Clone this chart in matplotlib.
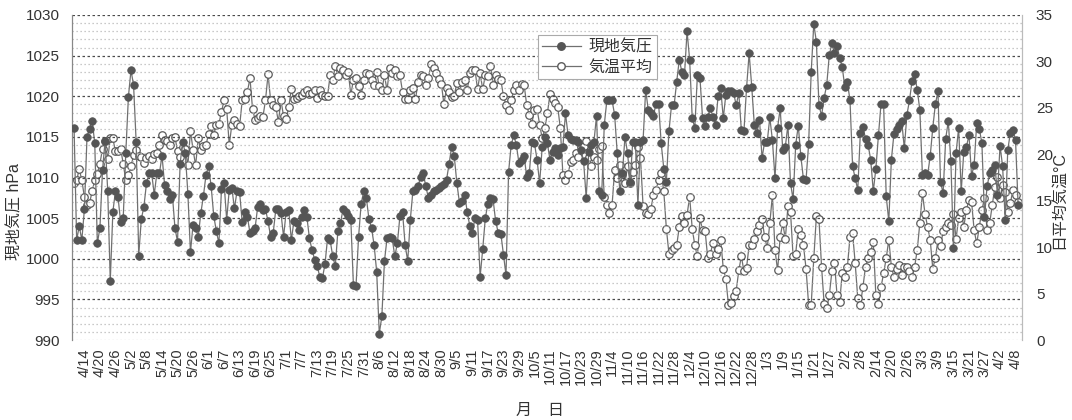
import matplotlib
matplotlib.use("Agg")
import matplotlib.pyplot as plt
import pandas as pd
from matplotlib.ticker import MultipleLocator
from matplotlib.lines import Line2D

plt.rcParams['font.family'] = ['Liberation Sans', 'Noto Sans CJK JP', 'DejaVu Sans']

start_date = "2003-04-10"

# 現地気圧 (hPa), daily values
pressure_apr_jun = [
    1016.1, 1002.3, 1004.0, 1002.3, 1006.1, 1015.0, 1016.0, 1017.0, 1014.2, 1001.9,
    1003.8, 1010.9, 1014.5, 1008.4, 997.3, 1005.8, 1008.3, 1007.6, 1004.5, 1005.0,
    1013.0, 1019.9, 1023.2, 1021.4, 1014.4, 1000.4, 1004.9, 1006.4, 1009.3, 1010.5,
    1010.5, 1007.9, 1010.5, 1010.5, 1012.7, 1009.1, 1008.3, 1007.3, 1007.9, 1003.8,
    1002.1, 1011.7, 1014.4, 1013.0, 1008.0, 1000.8, 1004.2, 1003.8, 1002.7, 1005.6,
    1007.7, 1010.3, 1011.4, 1008.9, 1005.3, 1003.4, 1001.9, 1008.6, 1009.3, 1004.8]
pressure_jun_aug = [
    1008.5, 1008.7, 1006.2, 1008.3, 1008.2, 1004.5, 1005.8, 1005.2, 1003.2, 1003.4,
    1003.8, 1006.4, 1006.8, 1006.0, 1006.1, 1004.6, 1002.7, 1003.2, 1006.1, 1006.1,
    1005.6, 1002.7, 1005.8, 1006.0, 1002.3, 1004.6, 1004.4, 1003.6, 1005.2, 1006.0,
    1005.2, 1002.5, 1001.1, 999.9, 999.1, 997.8, 997.6, 999.3, 1002.5, 1002.3,
    1000.3, 999.1, 1003.4, 1004.4, 1006.1, 1005.8, 1005.3, 1004.8, 996.8, 996.6,
    1002.7, 1006.8, 1008.3, 1007.5, 1004.9, 1003.8, 1001.7, 998.4, 990.8, 992.9,
    999.7]
pressure_aug_oct = [
    1002.5, 1002.7, 1002.5, 1000.3, 1001.9, 1005.3, 1005.7, 1001.7, 999.7, 1004.8,
    1008.3, 1008.5, 1008.9, 1010.1, 1010.5, 1008.9, 1007.5, 1007.9, 1008.3, 1008.5,
    1008.7, 1008.9, 1009.2, 1009.7, 1011.7, 1013.8, 1012.6, 1009.3, 1006.9, 1007.1,
    1007.9, 1005.8, 1004.0, 1003.2, 1005.0, 1004.8, 997.8, 1001.2, 1005.0, 1006.8,
    1007.5, 1007.3, 1004.6, 1003.2, 1003.1, 1000.5, 998.0, 1010.7, 1014.0, 1015.2,
    1014.0, 1011.8, 1012.2, 1012.7, 1010.1, 1010.5, 1014.4, 1014.2, 1012.2, 1009.3,
    1013.8]
pressure_oct_dec = [
    1015.0, 1014.2, 1012.2, 1013.2, 1013.6, 1012.8, 1013.6, 1013.8, 1017.9, 1015.2,
    1014.8, 1014.6, 1014.6, 1014.4, 1013.4, 1012.0, 1007.5, 1013.1, 1014.0, 1014.4,
    1017.6, 1008.3, 1007.9, 1016.5, 1019.5, 1019.5, 1019.5, 1017.7, 1013.0, 1008.3,
    1010.5, 1015.0, 1013.0, 1009.5, 1014.4, 1014.4, 1006.6, 1014.4, 1014.6, 1020.8,
    1018.3, 1018.0, 1017.6, 1019.1, 1019.1, 1014.2, 1011.1, 1009.5, 1015.7, 1018.9,
    1018.9, 1021.8, 1024.5, 1023.0, 1022.6, 1028.0, 1024.5, 1017.3, 1016.1, 1022.6,
    1022.2, 1017.3]
pressure_dec_feb = [
    1016.3, 1017.5, 1018.5, 1017.5, 1016.5, 1020.0, 1021.0, 1017.3, 1020.2, 1020.6,
    1020.6, 1020.4, 1018.9, 1020.4, 1015.8, 1015.7, 1021.0, 1025.3, 1021.2, 1016.5,
    1015.5, 1017.1, 1012.4, 1014.4, 1014.4, 1017.4, 1014.6, 1009.9, 1016.1, 1018.5,
    1013.4, 1013.8, 1016.5, 1009.3, 1007.3, 1014.0, 1016.4, 1012.6, 1009.8, 1009.7,
    1014.1, 1023.0, 1028.9, 1026.7, 1018.9, 1017.6, 1019.8, 1021.4, 1025.1, 1026.5,
    1025.3, 1026.2, 1024.7, 1023.6, 1021.1, 1021.7, 1019.5, 1011.4, 1009.9, 1008.5]
pressure_feb_apr = [
    1015.5, 1016.2, 1014.8, 1014.0, 1012.2, 1008.3, 1011.1, 1015.2, 1019.1, 1019.0,
    1007.7, 1004.6, 1012.2, 1015.4, 1016.0, 1016.5, 1016.9, 1013.6, 1017.7, 1019.5,
    1021.9, 1022.7, 1020.8, 1018.3, 1010.3, 1010.5, 1010.3, 1012.6, 1016.1, 1019.0,
    1020.6, 1009.4, 1008.1, 1014.8, 1016.9, 1012.0, 1001.3, 1013.0, 1016.1, 1008.3,
    1013.2, 1013.8, 1015.2, 1010.2, 1011.6, 1016.7, 1016.0, 1014.2, 1005.2, 1008.9,
    1010.5, 1010.9, 1011.6, 1007.9, 1013.9, 1011.4, 1004.8, 1013.4, 1015.5, 1015.9,
    1014.6, 1006.6]

# 気温平均 (°C), daily values
temp_apr_jun = [
    16.9, 17.2, 18.4, 17.2, 15.4, 14.5, 14.8, 16.0, 17.2, 17.9,
    19.0, 20.6, 21.4, 19.5, 21.7, 21.7, 20.3, 20.3, 20.6, 19.0,
    17.2, 17.8, 18.7, 19.9, 20.5, 19.8, 19.7, 19.1, 19.6, 19.8,
    19.5, 20.0, 20.1, 21.0, 22.1, 21.5, 21.4, 21.0, 21.7, 21.9,
    20.3, 19.7, 20.8, 20.6, 18.8, 22.5, 20.5, 18.8, 21.7, 20.5,
    20.9, 21.0, 22.2, 23.0, 22.1, 23.2, 23.3, 24.6, 25.8, 24.9,
    21.0]
temp_jun_aug = [
    23.2, 23.7, 23.3, 23.0, 25.8, 26.0, 26.7, 28.2, 24.9, 23.7,
    23.9, 24.1, 24.0, 25.8, 28.6, 25.8, 25.3, 25.1, 23.5, 25.8,
    24.1, 23.8, 25.1, 27.0, 25.9, 26.1, 26.3, 26.4, 26.7, 26.9,
    26.5, 26.6, 26.9, 26.1, 26.9, 26.4, 26.3, 26.3, 28.5, 28.0,
    29.5, 28.4, 29.3, 29.1, 28.5, 28.9, 26.4, 28.0, 28.2, 27.3,
    26.4, 28.0, 28.7, 28.6, 28.0, 27.5, 28.9, 27.3, 26.9, 28.5]
temp_aug_oct = [
    26.9, 29.3, 28.7, 29.1, 28.4, 28.5, 26.7, 26.0, 25.9, 26.9,
    27.1, 25.9, 27.8, 28.5, 28.4, 27.5, 28.2, 29.7, 29.3, 28.8,
    28.1, 27.6, 25.4, 27.1, 26.7, 26.2, 26.3, 27.7, 26.7, 27.8,
    28.0, 26.9, 28.7, 29.1, 29.1, 27.0, 28.7, 27.0, 28.5, 28.4,
    29.5, 27.5, 28.5, 28.1, 28.0, 26.3, 25.3, 24.8, 25.8, 26.9,
    27.5, 26.9, 27.6, 27.5, 25.3, 24.2, 23.3, 24.8, 24.9, 23.2,
    21.7]
temp_oct_dec = [
    22.8, 24.4, 26.5, 25.9, 25.5, 25.1, 22.8, 17.8, 17.2, 17.9,
    19.2, 19.4, 20.1, 19.7, 20.8, 20.9, 21.4, 19.7, 18.7, 19.7,
    19.4, 20.6, 20.9, 15.4, 14.5, 13.7, 14.5, 18.3, 17.4, 18.8,
    17.9, 16.9, 18.7, 16.9, 18.1, 18.8, 20.8, 19.6, 14.4, 13.7,
    13.6, 14.1, 15.6, 16.2, 17.2, 18.0, 16.0, 12.0, 9.3, 9.7,
    9.9, 10.2, 12.2, 13.3, 12.6, 13.5, 15.4, 12.0, 10.2, 9.0,
    13.1]
temp_dec_feb = [
    11.8, 11.7, 8.8, 9.3, 10.4, 9.3, 9.8, 10.8, 7.7, 6.6,
    3.8, 4.0, 4.7, 5.3, 7.5, 9.0, 7.4, 7.8, 10.2, 10.2,
    10.9, 11.7, 12.4, 13.0, 11.1, 9.9, 12.6, 15.6, 9.7, 7.5,
    11.1, 12.6, 10.9, 14.4, 13.8, 9.0, 9.3, 12.0, 11.3, 10.2,
    7.7, 3.8, 3.8, 8.8, 13.3, 13.0, 7.9, 3.9, 3.4, 4.8,
    7.4, 8.3, 4.8, 4.1, 7.2, 6.8, 7.9, 11.1, 11.5, 8.3,
    4.5]
temp_feb_apr = [
    3.8, 5.7, 7.9, 8.8, 9.5, 10.6, 4.8, 3.9, 5.7, 7.2,
    8.8, 10.8, 7.9, 6.8, 7.7, 8.1, 7.0, 7.9, 7.9, 7.4,
    6.8, 7.9, 9.7, 12.6, 15.8, 13.6, 12.2, 10.8, 7.7, 8.8,
    10.8, 10.1, 11.7, 12.2, 12.6, 12.4, 13.6, 10.9, 13.1, 13.8,
    12.2, 14.0, 15.1, 14.9, 11.8, 10.4, 12.2, 14.0, 15.3, 11.8,
    12.6, 14.5, 16.5, 17.6, 15.3, 16.7, 15.9, 13.8, 14.7, 16.2,
    15.6, 14.9]

tick_labels = [
    "4/14", "4/20", "4/26", "5/2", "5/8", "5/14", "5/20", "5/26", "6/1", "6/7",
    "6/13", "6/19", "6/25", "7/1", "7/7", "7/13", "7/19", "7/25", "7/31", "8/6",
    "8/12", "8/18", "8/24", "8/30", "9/5", "9/11", "9/17", "9/23", "9/29", "10/5",
    "10/11", "10/17", "10/23", "10/29", "11/4", "11/10", "11/16", "11/22", "11/28", "12/4",
    "12/10", "12/16", "12/22", "12/28", "1/3", "1/9", "1/15", "1/21", "1/27", "2/2",
    "2/8", "2/14", "2/20", "2/26", "3/3", "3/9", "3/15", "3/21", "3/27", "4/2", "4/8"]

pressure = (pressure_apr_jun + pressure_jun_aug + pressure_aug_oct +
            pressure_oct_dec + pressure_dec_feb + pressure_feb_apr)
temperature = (temp_apr_jun + temp_jun_aug + temp_aug_oct +
               temp_oct_dec + temp_dec_feb + temp_feb_apr)

dates = pd.date_range(start_date, periods=len(pressure), freq="D")
x = list(range(len(dates)))
tick_pos = [i for i, d in enumerate(dates) if f"{d.month}/{d.day}" in tick_labels
            and (i - 4) % 6 == 0]

fig = plt.figure(figsize=(10.72, 4.2), dpi=100)
ax = fig.add_axes([72/1072, 1 - 340/420, 950/1072, 325/420])
ax2 = ax.twinx()

dark = '#555555'
linec = '#707070'

ax2.plot(x[:len(temperature)], temperature, color=linec, lw=0.9,
         marker='o', markersize=5.4, markerfacecolor='white',
         markeredgecolor='#5a5a5a', markeredgewidth=0.9, zorder=2)
ax.plot(x, pressure, color=linec, lw=0.9, marker='o', markersize=5.4,
        markerfacecolor=dark, markeredgecolor=dark, markeredgewidth=0.6, zorder=3)

ax.set_zorder(ax2.get_zorder() + 1)
ax.patch.set_visible(False)

ax.set_xlim(-0.8, 366.5)
ax.set_ylim(990, 1030)
ax2.set_ylim(0, 35)

ax.yaxis.set_major_locator(MultipleLocator(5))
ax.yaxis.set_minor_locator(MultipleLocator(1))
ax2.yaxis.set_major_locator(MultipleLocator(5))

ax.grid(which='major', axis='y', color='#4a4a4a', linestyle=(0, (2, 2)), lw=0.9)
ax.grid(which='minor', axis='y', color='#b8b8b8', linestyle=(0, (1, 2.2)), lw=0.9)
ax.set_axisbelow(True)
for gl, val in zip(ax.yaxis.get_gridlines(), ax.get_yticks()):
    if val <= 990:
        gl.set_color('#b8b8b8')
        gl.set_linestyle((0, (1, 2.2)))

ax.set_xticks(tick_pos)
ax.set_xticklabels(tick_labels, rotation=90, fontsize=10.5, color='#333333')
ax.tick_params(axis='x', length=0, pad=6)
ax.tick_params(axis='y', which='both', length=0, pad=9, labelsize=11, labelcolor='#333333')
ax2.tick_params(axis='y', length=0, pad=10, labelsize=11, labelcolor='#333333')

for a in (ax, ax2):
    a.spines['top'].set_visible(False)
    a.spines['bottom'].set_visible(False)
    a.spines['left'].set_color('#888888')
    a.spines['left'].set_linewidth(0.8)
    a.spines['right'].set_color('#bbbbbb')
    a.spines['right'].set_linewidth(0.8)

fig.text(15/1072, 1 - 212/420, "現地気圧 hPa", rotation=90, ha='center', va='center',
         fontsize=11.5, color='#333333')
fig.text(1059/1072, 1 - 200/420, "日平均気温°C", rotation=90, ha='center', va='center',
         fontsize=11.5, color='#333333')
fig.text(540/1072, 1 - 410/420, "月　日", ha='center', va='center',
         fontsize=11.5, color='#333333')

handles = [
    Line2D([], [], color=linec, lw=0.9, marker='o', markersize=5.4,
           markerfacecolor=dark, markeredgecolor=dark),
    Line2D([], [], color=linec, lw=0.9, marker='o', markersize=5.4,
           markerfacecolor='white', markeredgecolor='#5a5a5a'),
]
leg = ax.legend(handles, ["現地気圧", "気温平均"], loc='upper left',
                bbox_to_anchor=(0.49, 0.94), fontsize=11.5, frameon=True,
                fancybox=False, edgecolor='#aaaaaa', framealpha=1,
                handlelength=2.4, handletextpad=0.5, borderpad=0.3,
                labelspacing=0.3, borderaxespad=0)
leg.get_frame().set_linewidth(0.8)
for t in leg.get_texts():
    t.set_color('#333333')

fig.savefig("out.png", dpi=100)
